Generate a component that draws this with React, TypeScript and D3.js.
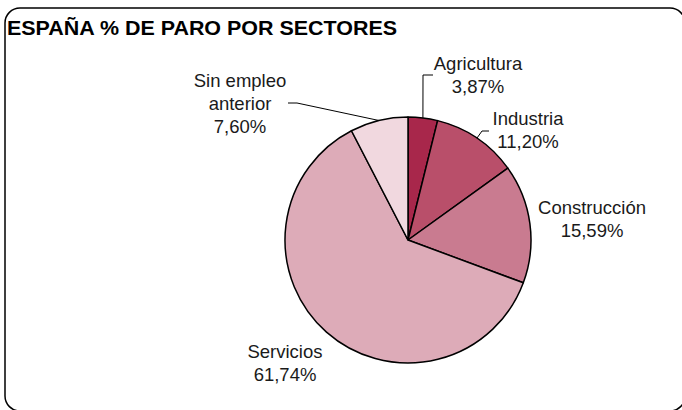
import React from "react";
import * as d3 from "d3";

const categories = ["Agricultura", "Industria", "Construcción", "Servicios", "Sin empleo anterior"];
const values = [3.87, 11.2, 15.59, 61.74, 7.6];
const valueLabels = ["3,87%", "11,20%", "15,59%", "61,74%", "7,60%"];
const labelLines = [["Agricultura"], ["Industria"], ["Construcción"], ["Servicios"], ["Sin empleo", "anterior"]];
const colors = ["#A8274B", "#B94F6A", "#C97B90", "#DDABB8", "#F1D8DF"];

// layout: label centre x, first baseline y (relative to pie centre), leader elbow & end (relative)
const layout = [
  { lx: 70, ly: -170, leader: [[15, -165], [25, -165]] },
  { lx: 120, ly: -115, leader: [[74, -109], [81, -109]] },
  { lx: 184, ly: -26, leader: null },
  { lx: -123, ly: 118, leader: null },
  { lx: -168, ly: -153, leader: [[-111, -137], [-120, -137]] },
];

const W = 682, H = 410;
const cx = 408, cy = 240, R = 123;
const FONT = "'Liberation Sans', Arial, sans-serif";

export default function App() {
  const pie = d3.pie<number>().sort(null).value((d) => d)(values);
  const arc = d3.arc<d3.PieArcDatum<number>>().innerRadius(0).outerRadius(R);
  return (
    <svg width={W} height={H} style={{ position: "absolute", left: 0, top: 0, background: "#fff" }}>
      <rect x={5} y={8} width={680} height={403} rx={15} ry={15} fill="#fff" stroke="#000" strokeWidth={1.5} />
      <text x={7} y={35} fontFamily={FONT} fontWeight="bold" fontSize={20} textLength={390} lengthAdjust="spacingAndGlyphs" fill="#000">
        ESPAÑA % DE PARO POR SECTORES
      </text>
      <g transform={`translate(${cx},${cy})`}>
        {pie.map((p, i) => (
          <path key={i} d={arc(p) || ""} fill={colors[i]} stroke="#000" strokeWidth={1.5} strokeLinejoin="round" />
        ))}
        {pie.map((p, i) => {
          const L = layout[i];
          if (!L.leader) return null;
          const mid = (p.startAngle + p.endAngle) / 2;
          const ex = R * Math.sin(mid), ey = -R * Math.cos(mid);
          const pts = [[ex, ey], ...L.leader];
          return <polyline key={"l" + i} points={pts.map((q) => q.join(",")).join(" ")} fill="none" stroke="#000" strokeWidth={1} />;
        })}
        {pie.map((p, i) => {
          const L = layout[i];
          const lines = [...labelLines[i], valueLabels[i]];
          return (
            <text key={"t" + i} fontFamily={FONT} fontSize={18.5} fill="#1a1a1a" textAnchor="middle">
              {lines.map((s, j) => (
                <tspan key={j} x={L.lx} y={L.ly + j * 23}>{s}</tspan>
              ))}
            </text>
          );
        })}
      </g>
    </svg>
  );
}
